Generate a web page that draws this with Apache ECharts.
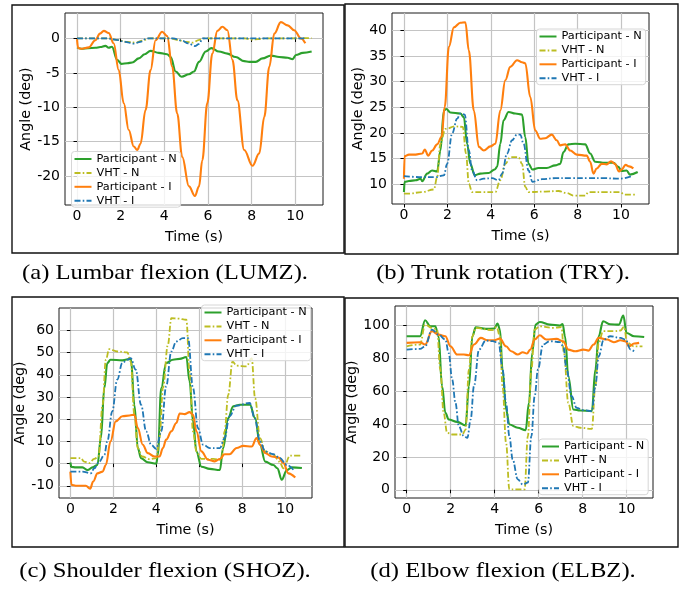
<!DOCTYPE html>
<html><head><meta charset="utf-8">
<script src="https://cdn.jsdelivr.net/npm/echarts@6/dist/echarts.min.js"></script>
<style>html,body{margin:0;padding:0;background:#fff}#c{width:692px;height:591px}</style>
</head><body><div id="c"></div>
<script>
// ---- Series names and tick labels ----
const SERIES_NAMES = ['Participant - N', 'VHT - N', 'Participant - I', 'VHT - I'];
const X_TICKS = [0, 2, 4, 6, 8, 10];
const Y_TICKS_A = [-20, -15, -10, -5, 0];
const Y_TICKS_B = [10, 15, 20, 25, 30, 35, 40];
const Y_TICKS_C = [-10, 0, 10, 20, 30, 40, 50, 60];
const Y_TICKS_D = [0, 20, 40, 60, 80, 100];
const CAPTIONS = ['(a) Lumbar flexion (LUMZ).', '(b) Trunk rotation (TRY).', '(c) Shoulder flexion (SHOZ).', '(d) Elbow flexion (ELBZ).'];

// ---- (a) Lumbar flexion: [time s, angle deg] ----
const LUMZ_PN = [[0,-1.3],[0.2,-1.5],[0.5,-1.4],[0.84,-1.36],[1.07,-1.25],[1.3,-1.07],[1.45,-1.36],[1.6,-1.2],[1.84,-3.1],[2.04,-3.7],[2.3,-3.6],[2.53,-3.5],[2.83,-2.9],[3.1,-2.3],[3.37,-1.8],[3.75,-2.1],[4.13,-2.3],[4.29,-2.7],[4.52,-4.8],[4.79,-5.57],[5.13,-5.2],[5.36,-4.8],[5.59,-3.4],[5.9,-1.9],[6.16,-1.4],[6.5,-1.9],[6.89,-2.2],[7.27,-2.7],[7.66,-3.3],[7.89,-3.4],[8.19,-3.4],[8.5,-2.9],[8.88,-2.5],[9.26,-2.7],[9.65,-2.8],[9.88,-3.0],[10.03,-2.4],[10.34,-2.1],[10.75,-1.9]];
const LUMZ_VN = [[0,0],[1.5,0],[1.8,-0.2],[2.3,-0.5],[2.7,-0.6],[3.0,-0.3],[3.3,0],[4.3,0],[4.6,-0.2],[5.0,-0.5],[5.3,-0.6],[5.6,-0.2],[5.8,0],[7.7,0],[8.0,-0.15],[8.3,-0.1],[8.6,0],[10.75,0.05]];
const LUMZ_PI = [[0,-0.1],[0.05,-1.4],[0.23,-1.5],[0.54,-1.3],[0.84,-0.25],[1.05,0.7],[1.23,1.1],[1.45,0.8],[1.68,-0.7],[1.91,-4.6],[2.14,-9.4],[2.37,-13.3],[2.6,-15.7],[2.76,-16.2],[2.91,-15.3],[3.14,-10.4],[3.37,-4.6],[3.6,-0.25],[3.9,0.97],[4.13,0.34],[4.36,-4.1],[4.59,-10.9],[4.82,-17.2],[5.13,-21.5],[5.4,-22.9],[5.59,-21.5],[5.74,-17.7],[5.97,-9.4],[6.2,-2.2],[6.43,1.1],[6.66,1.7],[6.89,1.2],[7.12,-3.1],[7.35,-9.0],[7.66,-16.2],[8.04,-18.5],[8.35,-16.7],[8.58,-11.4],[8.81,-4.1],[9.04,0.7],[9.34,2.37],[9.65,1.9],[9.95,1.2],[10.26,0],[10.46,-0.7]];
const LUMZ_VI = [[0,0],[1.4,0],[1.8,-0.2],[2.2,-0.5],[2.6,-0.75],[2.9,-0.5],[3.2,0],[4.4,0],[4.8,-0.3],[5.1,-0.7],[5.4,-1.1],[5.6,-0.8],[5.75,0],[10.5,0]];

// ---- (b) Trunk rotation ----
const TRY_PN = [[0,8.5],[0.03,10.5],[0.23,10.65],[0.54,10.8],[0.77,11.1],[0.84,10.6],[1.07,12.1],[1.3,12.7],[1.53,12.5],[1.68,16.6],[1.84,24.4],[1.95,24.7],[2.14,24.0],[2.6,23.8],[2.76,23.1],[2.91,17.9],[3.06,14.0],[3.26,11.8],[3.52,12.1],[3.9,12.2],[4.18,12.9],[4.29,13.4],[4.44,17.9],[4.59,22.5],[4.82,24.1],[5.13,23.8],[5.44,23.6],[5.59,19.2],[5.74,14.0],[5.92,12.9],[6.2,13.2],[6.58,13.2],[6.97,13.7],[7.2,14.0],[7.35,16.3],[7.58,17.8],[7.89,17.9],[8.35,17.8],[8.58,16.0],[8.81,14.4],[9.26,14.2],[9.65,14.2],[9.88,13.4],[10.03,12.6],[10.26,12.7],[10.41,11.9],[10.77,12.4]];
const TRY_VN = [[0,8.2],[0.23,8.2],[0.84,8.5],[1.38,9.0],[1.53,11.4],[1.68,17.9],[1.91,20.8],[2.37,21.3],[2.71,21.2],[2.86,16.0],[2.99,10.1],[3.14,8.5],[3.6,8.5],[4.21,8.5],[4.44,10.8],[4.67,14.0],[4.9,15.3],[5.28,15.3],[5.44,14.0],[5.59,9.5],[5.74,8.5],[6.51,8.6],[7.12,8.7],[7.5,8.3],[7.81,7.8],[8.35,7.8],[8.5,8.5],[9.26,8.5],[9.95,8.5],[10.18,8.0],[10.64,8.0]];
const TRY_PI = [[0,11.1],[0.03,15.5],[0.23,15.8],[0.54,15.8],[0.84,16.0],[0.96,16.8],[1.12,15.6],[1.3,16.6],[1.53,17.8],[1.73,19.2],[1.88,25.1],[2.07,36.8],[2.3,40.6],[2.6,41.5],[2.83,41.6],[2.99,36.1],[3.22,24.4],[3.45,17.3],[3.68,16.6],[3.98,17.4],[4.21,17.9],[4.44,24.4],[4.67,30.3],[4.9,32.9],[5.21,34.2],[5.44,33.8],[5.59,33.6],[5.82,27.0],[6.05,20.5],[6.28,18.9],[6.51,19.0],[6.81,19.7],[7.04,18.6],[7.2,17.6],[7.43,17.8],[7.66,16.6],[7.96,15.8],[8.42,15.6],[8.58,14.4],[8.73,12.1],[8.88,13.1],[9.11,14.0],[9.34,13.9],[9.54,14.5],[9.72,14.0],[9.91,12.5],[10.03,12.9],[10.21,13.8],[10.37,13.5],[10.57,13.1]];
const TRY_VI = [[0,11.6],[0.84,11.4],[1.45,11.4],[1.84,11.75],[1.99,14.0],[2.22,19.9],[2.45,22.8],[2.6,23.8],[2.8,23.6],[2.99,16.6],[3.14,12.7],[3.37,10.8],[3.68,11.1],[4.06,11.2],[4.36,10.8],[4.52,12.1],[4.75,16.0],[4.98,18.6],[5.21,19.7],[5.36,19.7],[5.51,17.9],[5.74,12.7],[5.92,10.5],[6.35,11.0],[6.97,11.2],[7.73,11.2],[8.5,11.2],[9.26,11.2],[9.95,11.1],[10.49,11.6]];

// ---- (c) Shoulder flexion ----
const SHOZ_PN = [[0,0.5],[0.05,-1.5],[0.25,-1.7],[0.56,-1.7],[0.8,-2.9],[1.03,-1.7],[1.26,-0.6],[1.42,11.5],[1.58,34.0],[1.72,45.3],[1.87,46.8],[2.42,46.5],[2.82,47.2],[2.98,26.5],[3.14,7.0],[3.29,2.4],[3.6,0.6],[4.0,0],[4.07,3.9],[4.23,34.0],[4.46,45.3],[4.77,46.8],[5.09,47.2],[5.4,48.0],[5.55,37.0],[5.71,19.0],[5.87,5.4],[6.1,-1.4],[6.49,-2.4],[6.96,-2.9],[7.11,7.0],[7.35,20.5],[7.58,25.8],[7.89,26.5],[8.36,26.5],[8.6,20.5],[8.83,8.5],[9.07,0.9],[9.45,-0.6],[9.64,-2.1],[9.84,-7.3],[10.08,-2.9],[10.31,-1.7],[10.78,-2.0]];
const SHOZ_VN = [[0,2.5],[0.48,2.5],[0.64,0.9],[0.87,0.2],[1.11,2.1],[1.31,3.2],[1.5,26.5],[1.65,46.8],[1.81,51.6],[2.18,50.5],[2.65,50.1],[2.81,46.0],[2.98,22.0],[3.14,7.0],[3.34,3.2],[3.68,2.0],[4.0,2.5],[4.15,11.5],[4.31,34.0],[4.54,53.5],[4.7,65.5],[5.01,65.3],[5.4,64.8],[5.55,41.5],[5.71,14.5],[5.87,5.5],[6.1,2.1],[6.65,2.1],[7.04,1.7],[7.18,14.5],[7.35,31.0],[7.55,46.0],[7.74,44.1],[8.2,43.8],[8.44,47.5],[8.6,29.5],[8.83,11.5],[9.07,5.5],[9.45,4.0],[9.73,0.9],[9.92,-2.1],[10.23,3.6],[10.78,3.6]];
const SHOZ_PI = [[0,-3.6],[0.05,-9.6],[0.25,-10.0],[0.72,-10.0],[0.92,-11.3],[1.06,-8.1],[1.26,-4.4],[1.5,-3.6],[1.65,-0.6],[1.87,10.0],[2.11,19.0],[2.42,21.3],[2.75,21.7],[2.98,22.0],[3.14,16.0],[3.37,8.5],[3.6,4.7],[3.92,3.2],[4.15,3.2],[4.31,7.0],[4.46,10.8],[4.7,14.5],[4.93,18.3],[5.09,22.6],[5.32,22.3],[5.55,23.2],[5.71,22.0],[5.87,14.5],[6.1,5.5],[6.41,1.7],[6.72,1.0],[6.96,2.1],[7.18,4.2],[7.41,4.2],[7.74,7.0],[8.05,8.0],[8.44,7.7],[8.67,11.5],[8.83,8.5],[9.07,4.8],[9.38,3.2],[9.69,2.7],[9.92,0.2],[10.15,-4.4],[10.47,-6.3]];
const SHOZ_VI = [[0,-3.6],[0.56,-3.6],[0.95,-4.4],[1.11,-2.1],[1.34,0.9],[1.58,3.9],[1.72,10.0],[1.95,23.5],[2.18,37.8],[2.42,45.3],[2.65,46.8],[2.81,47.5],[3.04,42.3],[3.29,26.5],[3.53,14.5],[3.76,8.5],[4.0,6.6],[4.23,14.5],[4.46,34.8],[4.7,50.5],[4.93,55.0],[5.24,56.5],[5.48,56.5],[5.71,34.0],[5.94,16.0],[6.18,8.5],[6.49,7.0],[6.96,7.0],[7.18,11.5],[7.41,21.3],[7.72,26.1],[8.35,27.3],[8.58,20.5],[8.83,10.0],[9.07,5.5],[9.45,4.2],[9.73,2.7],[10.08,-0.6],[10.39,-2.9]];

// ---- (d) Elbow flexion ----
const ELBZ_PN = [[0,93.3],[0.61,93.3],[0.84,103.0],[1.07,99.4],[1.3,99.4],[1.45,93.3],[1.61,63.0],[1.76,46.8],[1.91,42.7],[2.3,41.3],[2.68,39.1],[2.83,63.0],[2.99,93.3],[3.14,98.8],[3.6,97.8],[3.98,98.0],[4.13,101.0],[4.24,97.4],[4.36,73.1],[4.52,48.8],[4.67,39.7],[5.05,37.7],[5.41,36.2],[5.56,52.8],[5.71,83.2],[5.86,100.4],[6.05,102.0],[6.51,100.4],[6.97,99.8],[7.09,100.8],[7.2,93.3],[7.35,69.0],[7.58,48.8],[7.89,48.2],[8.42,47.8],[8.58,73.1],[8.73,93.3],[8.93,102.4],[9.26,100.6],[9.65,100.4],[9.85,105.9],[10.0,95.3],[10.34,93.3],[10.8,92.9]];
const ELBZ_VN = [[0,87.2],[0.61,88.3],[0.84,100.4],[1.15,98.4],[1.38,97.4],[1.53,73.1],[1.68,46.8],[1.84,34.6],[2.07,33.6],[2.53,33.6],[2.68,36.6],[2.83,73.1],[2.99,93.3],[3.14,98.4],[3.9,97.0],[4.09,99.0],[4.24,93.3],[4.36,63.0],[4.52,28.5],[4.67,0.2],[4.98,0.2],[5.36,0.2],[5.51,32.6],[5.67,73.1],[5.82,97.4],[6.05,99.4],[6.66,98.4],[7.04,98.8],[7.15,83.2],[7.35,52.8],[7.58,38.7],[7.89,37.7],[8.42,37.0],[8.58,63.0],[8.73,89.3],[8.93,96.4],[9.42,96.4],[9.72,96.8],[9.88,99.0],[10.03,89.3],[10.34,87.2],[10.72,87.2]];
const ELBZ_PI = [[0,89.3],[0.61,89.7],[0.84,88.3],[1.15,96.4],[1.45,94.3],[1.76,93.3],[1.99,87.2],[2.3,82.2],[2.6,82.2],[2.83,81.8],[3.06,88.3],[3.37,92.3],[3.68,90.9],[3.98,90.9],[4.24,91.9],[4.52,87.2],[4.75,84.2],[5.05,82.2],[5.28,83.6],[5.47,82.8],[5.62,85.2],[5.82,91.3],[6.05,93.9],[6.35,91.3],[6.81,91.7],[7.12,90.3],[7.35,85.2],[7.66,84.2],[8.04,85.2],[8.27,84.6],[8.5,88.3],[8.73,92.3],[9.11,91.3],[9.42,89.7],[9.72,90.9],[9.95,90.3],[10.11,87.2],[10.34,88.9],[10.57,89.3]];
const ELBZ_VI = [[0,85.2],[0.61,85.6],[0.84,87.2],[1.15,97.4],[1.45,94.3],[1.76,91.3],[1.91,83.2],[2.07,67.0],[2.22,52.8],[2.37,38.7],[2.6,32.6],[2.76,31.6],[2.91,42.7],[3.06,63.0],[3.29,85.2],[3.6,90.7],[3.9,90.3],[4.18,89.3],[4.36,73.1],[4.52,52.8],[4.67,32.6],[4.82,18.4],[5.05,6.3],[5.28,3.2],[5.51,4.3],[5.67,32.6],[5.82,56.9],[5.97,73.1],[6.2,88.3],[6.51,90.3],[6.97,89.7],[7.12,87.2],[7.27,73.1],[7.5,56.9],[7.73,49.8],[8.04,48.4],[8.42,47.8],[8.58,63.0],[8.73,81.2],[8.96,91.3],[9.26,93.3],[9.72,92.3],[9.95,91.3],[10.18,85.2],[10.34,84.2]];

// ---- styling / layout ----
const COLORS = ['#2ca02c', '#bcbd22', '#ff7f0e', '#1f77b4'];
const DASHDOT = [6, 2.2, 1.6, 2.2];
const FONT = 'DejaVu Sans';

const PANELS = [
  {data: [LUMZ_PN, LUMZ_VN, LUMZ_PI, LUMZ_VI], yTicks: Y_TICKS_A,
   grid: {left: 65, top: 13, width: 258, height: 192}, x: [-0.55, 11.27], y: [-24.2, 3.7], yStep: 5,
   yNameGap: 31, legend: {left: 71.5, top: 151.5}},
  {data: [TRY_PN, TRY_VN, TRY_PI, TRY_VI], yTicks: Y_TICKS_B,
   grid: {left: 392, top: 13, width: 257, height: 191}, x: [-0.55, 11.29], y: [6.17, 43.4], yStep: 5,
   yNameGap: 25.5, legend: {left: 536.5, top: 29}},
  {data: [SHOZ_PN, SHOZ_VN, SHOZ_PI, SHOZ_VI], yTicks: Y_TICKS_C,
   grid: {left: 59, top: 308, width: 253, height: 190}, x: [-0.53, 11.25], y: [-15.5, 70.1], yStep: 10,
   yNameGap: 25.5, legend: {left: 201.5, top: 305}},
  {data: [ELBZ_PN, ELBZ_VN, ELBZ_PI, ELBZ_VI], yTicks: Y_TICKS_D,
   grid: {left: 395, top: 306, width: 258, height: 192}, x: [-0.53, 11.2], y: [-5.0, 111.7], yStep: 20,
   yNameGap: 29, legend: {left: 539, top: 439}}
];

const grid = [], xAxis = [], yAxis = [], series = [], legend = [];
PANELS.forEach((p, i) => {
  grid.push(Object.assign({show: true, borderColor: '#1a1a1a', borderWidth: 1, backgroundColor: 'transparent', containLabel: false}, p.grid));
  const common = {
    axisLine: {show: false},
    splitLine: {show: true, lineStyle: {color: '#c4c4c4', width: 1.2}},
    axisLabel: {color: '#000', fontFamily: FONT, fontSize: 14},
    axisTick: {show: true, length: 3.5, lineStyle: {color: '#000', width: 1}},
    nameTextStyle: {color: '#000', fontFamily: FONT, fontSize: 14.3}
  };
  xAxis.push(Object.assign({}, common, {
    type: 'value', gridIndex: i, min: p.x[0], max: p.x[1], minInterval: 2, maxInterval: 2,
    name: 'Time (s)', nameLocation: 'middle', nameGap: 25,
    axisLabel: Object.assign({}, common.axisLabel, {margin: 4.5, customValues: X_TICKS}),
    axisTick: Object.assign({}, common.axisTick, {customValues: X_TICKS})
  }));
  yAxis.push(Object.assign({}, common, {
    type: 'value', gridIndex: i, min: p.y[0], max: p.y[1], minInterval: p.yStep, maxInterval: p.yStep,
    name: 'Angle (deg)', nameLocation: 'middle', nameGap: p.yNameGap, nameRotate: 90,
    axisLabel: Object.assign({}, common.axisLabel, {margin: 5, customValues: p.yTicks}),
    axisTick: Object.assign({}, common.axisTick, {customValues: p.yTicks})
  }));
  p.data.forEach((d, k) => {
    const dashed = (k === 1 || k === 3);
    series.push({
      type: 'line', name: SERIES_NAMES[k], xAxisIndex: i, yAxisIndex: i, data: d,
      symbol: 'none', showSymbol: false, smooth: 0.38, smoothMonotone: 'x', animation: false,
      color: COLORS[k], z: 2 + k * 0.01,
      lineStyle: {color: COLORS[k], width: dashed ? 1.8 : 2.1, type: dashed ? DASHDOT : 'solid'}
    });
  });
  legend.push({
    orient: 'vertical', left: p.legend.left, top: p.legend.top, data: SERIES_NAMES,
    itemWidth: 17, itemHeight: 10, itemGap: 2.9, padding: [2, 4, 1, 2],
    backgroundColor: 'rgba(255,255,255,0.8)', borderColor: '#d6d6d6', borderWidth: 1, borderRadius: 3,
    itemStyle: {opacity: 0, borderWidth: 0},
    textStyle: {color: '#000', fontFamily: FONT, fontSize: 11.3, lineHeight: 10},
    selectedMode: false
  });
});

const BOXES = [[12, 5, 332, 248], [345, 4, 333, 250], [12, 297, 332, 250], [345, 298, 333, 249]];
const CAP_POS = [[165, 273], [503, 273], [165, 571], [503, 571]];
const graphic = [];
BOXES.forEach(b => graphic.push({type: 'rect', shape: {x: b[0], y: b[1], width: b[2], height: b[3]},
  style: {fill: 'none', stroke: '#111', lineWidth: 1.4}, silent: true, z: 10}));
CAPTIONS.forEach((c, i) => graphic.push({type: 'text', x: CAP_POS[i][0], y: CAP_POS[i][1], scaleX: 1.12,
  style: {text: c, fill: '#000', font: '22px "Liberation Serif"', textAlign: 'center', textVerticalAlign: 'middle'}, silent: true}));

const chart = echarts.init(document.getElementById('c'), null, {renderer: 'canvas', width: 692, height: 591});
chart.setOption({animation: false, backgroundColor: '#fff', grid, xAxis, yAxis, series, legend, graphic});
</script></body></html>
